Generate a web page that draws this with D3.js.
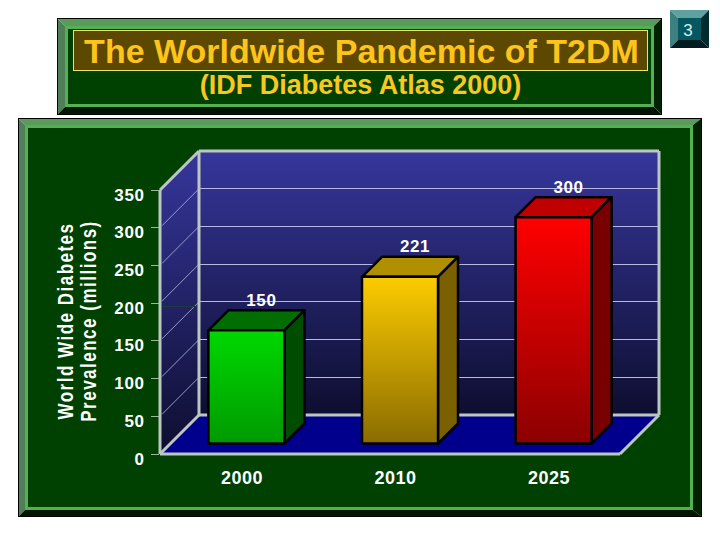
<!DOCTYPE html>
<html><head><meta charset="utf-8">
<script src="https://cdn.jsdelivr.net/npm/d3@7/dist/d3.min.js"></script>
<style>html,body{margin:0;padding:0;background:#fff}svg{display:block}text{font-family:"Liberation Sans",Arial,sans-serif}</style>
</head><body><svg id="c" width="720" height="540"></svg>
<script>
const categories=["2000","2010","2025"];
const values=[150,221,300];
const yTicks=[0,50,100,150,200,250,300,350];
const faceTop=["#00d800","#fccc00","#ff0000"];
const faceBottom=["#009a00","#8a6c00","#8c0000"];
const topColors=["#006e00","#b08f00","#c00000"];
const sideColors=["#004c00","#7a6000","#780000"];
const titleText="The Worldwide Pandemic of T2DM";
const subtitleText="(IDF Diabetes Atlas 2000)";
const yTitle=["World Wide Diabetes","Prevalence (millions)"];

const svg=d3.select("#c");
const defs=svg.append("defs");
function grad(id,a,b){const g=defs.append("linearGradient").attr("id",id).attr("x1",0).attr("x2",0).attr("y1",0).attr("y2",1);
 g.append("stop").attr("offset",0).attr("stop-color",a);g.append("stop").attr("offset",1).attr("stop-color",b);}
grad("wall","#36369c","#0e0e30");
categories.forEach((c,i)=>grad("bar"+i,faceTop[i],faceBottom[i]));
const line=d3.line();
function poly(p,fill,par){return (par||svg).append("path").attr("d",line(p)+"Z").attr("fill",fill);}
function panel(x0,y0,x1,y1,l,t,r,b){
 poly([[x0,y0],[x1,y0],[x1-r,y0+t],[x0+l,y0+t]],"#5a9a5a");
 poly([[x0,y0],[x0+l,y0+t],[x0+l,y1-b],[x0,y1]],"#4e7f58");
 poly([[x1,y0],[x1,y1],[x1-r,y1-b],[x1-r,y0+t]],"#002200");
 poly([[x0,y1],[x1,y1],[x1-r,y1-b],[x0+l,y1-b]],"#001600");
 svg.append("rect").attr("x",x0+l).attr("y",y0+t).attr("width",x1-x0-l-r).attr("height",y1-y0-t-b).attr("fill","#004000");
 svg.append("rect").attr("x",x0+l+1.5).attr("y",y0+t+1.5).attr("width",x1-x0-l-r-3).attr("height",y1-y0-t-b-3).attr("fill","none").attr("stroke","#52b252").attr("stroke-width",3);
 svg.append("rect").attr("x",x0+.5).attr("y",y0+.5).attr("width",x1-x0-1).attr("height",y1-y0-1).attr("fill","none").attr("stroke","#000");
}
panel(57,18,662,115,8,8,8,8);
svg.append("rect").attr("x",73.5).attr("y",30.5).attr("width",574).attr("height",40).attr("fill","#5c4800").attr("stroke","#e8e860");
svg.append("text").attr("x",361.5).attr("y",62.5).attr("text-anchor","middle").attr("font-size",34).attr("font-weight",700).attr("fill","#fdc41c").text(titleText);
svg.append("text").attr("x",360.5).attr("y",94).attr("text-anchor","middle").attr("font-size",27).attr("font-weight",700).attr("fill","#f8c820").text(subtitleText);
panel(18,118,702,517,7,7,9,7);
// page badge
const bx=670,by=10,bx1=709,by1=48,bb=8;
poly([[bx,by],[bx1,by],[bx1-bb,by+bb],[bx+bb,by+bb]],"#5fa0a0");
poly([[bx,by],[bx+bb,by+bb],[bx+bb,by1-bb],[bx,by1]],"#3d8080");
poly([[bx1,by],[bx1,by1],[bx1-bb,by1-bb],[bx1-bb,by+bb]],"#002c30");
poly([[bx,by1],[bx1,by1],[bx1-bb,by1-bb],[bx+bb,by1-bb]],"#001c20");
svg.append("rect").attr("x",bx+bb).attr("y",by+bb).attr("width",bx1-bx-2*bb).attr("height",by1-by-2*bb).attr("fill","#055860");
svg.append("text").attr("x",688).attr("y",36).attr("text-anchor","middle").attr("font-size",17).attr("fill","#d8ecec").text("3");

// chart
const y=d3.scaleLinear().domain([0,350]).range([454,190]);
const x=d3.scaleBand().domain(categories).range([160,620]).paddingInner(0.505).paddingOuter(0.25);
const dx=39,dy=-39,bdx=20,bdy=-20,ox=10,oy=-10.5;
const L=160,R=620;
const wallTop=y(350)+dy,wallBot=y(0)+dy;
poly([[L,y(0)],[L+dx,wallBot],[L+dx,wallTop],[L,y(350)]],"url(#wall)");
svg.append("rect").attr("x",L+dx).attr("y",wallTop).attr("width",R-L).attr("height",wallBot-wallTop).attr("fill","url(#wall)");
poly([[L,y(0)],[R,y(0)],[R+dx,wallBot],[L+dx,wallBot]],"#00008c");
const grid=yTicks.filter(d=>d>0&&d<350);
svg.append("g").selectAll("line").data(grid).join("line").attr("x1",L+dx).attr("x2",R+dx).attr("y1",d=>Math.floor(y(d)+dy)+.5).attr("y2",d=>Math.floor(y(d)+dy)+.5).attr("stroke","#b8b8e4").attr("stroke-width",1);
svg.append("g").selectAll("line").data(grid).join("line").attr("x1",L+2).attr("x2",L+dx).attr("y1",d=>y(d)-2).attr("y2",d=>y(d)+dy).attr("stroke","#b8b8e4").attr("stroke-width",.8);
svg.append("line").attr("x1",L+2).attr("x2",L+dx-2).attr("y1",Math.floor(y(200)+3)+.5).attr("y2",Math.floor(y(200)+3)+.5).attr("stroke","#1c3c3c");
// frame lines
const fr="#bcc6c2";
const fl=(a,b,c,e)=>svg.append("line").attr("x1",a).attr("y1",b).attr("x2",c).attr("y2",e).attr("stroke",fr).attr("stroke-width",3);
fl(L,y(350),L,y(0));fl(L,y(0),R,y(0));fl(L,y(0),L+dx,wallBot);fl(L+dx,wallBot,R+dx,wallBot);fl(R,y(0),R+dx,wallBot);
fl(L+dx,wallTop,L+dx,wallBot);fl(L,y(350),L+dx,wallTop);fl(L+dx,wallTop,R+dx,wallTop);fl(R+dx,wallTop,R+dx,wallBot);
// y ticks + labels
const gy=svg.append("g");
gy.selectAll("line").data(yTicks).join("line").attr("x1",151).attr("x2",159).attr("y1",d=>Math.floor(y(d))+.5).attr("y2",d=>Math.floor(y(d))+.5).attr("stroke","#9cb89c");
gy.selectAll("text").data(yTicks).join("text").attr("x",144.5).attr("y",d=>y(d)+10.5).attr("text-anchor","end").attr("font-size",17).attr("letter-spacing",0.6).attr("font-weight",700).attr("fill","#fff").text(d=>d);
// x labels
svg.append("g").selectAll("text").data(categories).join("text").attr("x",d=>x(d)+x.bandwidth()/2+5.5).attr("y",484).attr("text-anchor","middle").attr("font-size",18).attr("letter-spacing",0.5).attr("font-weight",700).attr("fill","#fff").text(d=>d);
// bars
const bars=svg.append("g").attr("stroke","#000").attr("stroke-width",2.5).attr("stroke-linejoin","round");
categories.forEach((c,i)=>{
 const x0=x(c)+ox,x1=x0+x.bandwidth(),yb=y(0)+oy,yt=y(values[i])+oy;
 poly([[x0,yt],[x1,yt],[x1+bdx,yt+bdy],[x0+bdx,yt+bdy]],topColors[i],bars);
 poly([[x1,yt],[x1+bdx,yt+bdy],[x1+bdx,yb+bdy],[x1,yb]],sideColors[i],bars);
 bars.append("rect").attr("x",x0).attr("y",yt).attr("width",x1-x0).attr("height",yb-yt).attr("fill",`url(#bar${i})`);
});
// value labels
svg.append("g").selectAll("text").data(values).join("text").attr("x",(d,i)=>x(categories[i])+x.bandwidth()/2+25).attr("y",d=>y(d)-35).attr("text-anchor","middle").attr("font-size",17).attr("letter-spacing",0.6).attr("font-weight",700).attr("fill","#fff").text(d=>d);
// y title
yTitle.forEach((t,i)=>svg.append("text").attr("transform",`translate(${73+i*23},321) rotate(-90) scale(1,1.25)`).attr("text-anchor","middle").attr("font-size",17).attr("letter-spacing",1.5).attr("font-weight",700).attr("fill","#fff").text(t));
</script></body></html>
